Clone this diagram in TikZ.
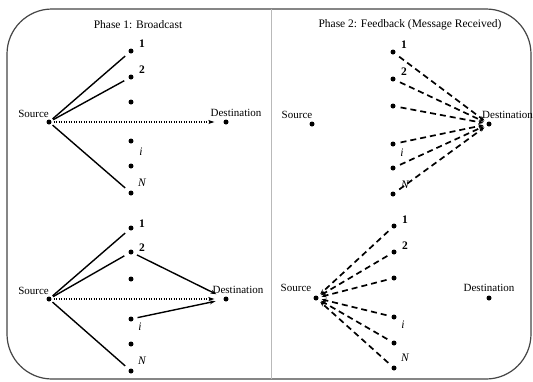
\documentclass[tikz,border=0pt]{standalone}
\usepackage{fontspec}
\setmainfont{Liberation Serif}
\usetikzlibrary{arrows.meta}
\begin{document}
\begin{tikzpicture}[x=1pt,y=-1pt,
  dot/.style={circle,fill=black,inner sep=0pt,minimum size=5pt},
  lbl/.style={inner sep=0pt,font=\fontsize{11}{12}\selectfont},
  num/.style={inner sep=0pt,font=\fontsize{11.5}{12}\selectfont\bfseries},
  itl/.style={inner sep=0pt,font=\fontsize{11.5}{12}\selectfont\itshape},
  ttl/.style={inner sep=0pt,font=\fontsize{11.5}{13}\selectfont},
  sline/.style={line width=1.4pt,shorten >=5pt,shorten <=2pt},
  sarrow/.style={line width=1.4pt,-{Stealth[length=6pt,width=4pt]},shorten >=8pt,shorten <=4pt},
  darrow/.style={line width=1.5pt,dash pattern=on 1.2pt off 1.3pt,-{Stealth[length=6pt,width=4pt]},shorten >=9pt,shorten <=2pt},
  dsh/.style={line width=1.7pt,dash pattern=on 6pt off 4pt,-{Stealth[length=5pt,width=4pt]},shorten >=3pt,shorten <=5pt}
]
\useasboundingbox (0,0) rectangle (533,381);
\fill[white] (0,0) rectangle (533,381);
\draw[gray!55!black,line width=1.2pt,rounded corners=45pt] (7,9) rectangle (531,379);
\draw[gray!55,line width=0.6pt] (271,9) -- (271,379);

% titles
\node[ttl] (t1) at (138,25) {Phase 1: Broadcast};
\node[ttl] (t2) at (410,25) {Phase 2: Feedback (Message Received)};

% ---- top-left panel
\node[dot] (aS) at (49,122) {};
\node[lbl,anchor=south east] (aSl) at (49,118) {Source};
\node[dot] (aD) at (226,122) {};
\node[lbl] (aDl) at (236,113) {Destination};
\node[dot] (a1) at (131,51) {};
\node[dot] (a2) at (131,77) {};
\node[dot] (a3) at (131,102) {};
\node[dot] (a4) at (131,141) {};
\node[dot] (a5) at (131,166) {};
\node[dot] (a6) at (131,193) {};
\node[num] (a1l) at (142,44) {1};
\node[num] (a2l) at (142,70) {2};
\node[itl] (a4l) at (141,152) {i};
\node[itl] (a6l) at (142,183) {N};
\draw[sline] (aS) -- (a1);
\draw[sline] (aS) -- (a2);
\draw[sline] (aS) -- (a6);
\draw[darrow] (aS) -- (aD);

% ---- bottom-left panel
\node[dot] (bS) at (49,299) {};
\node[lbl,anchor=south east] (bSl) at (49,295) {Source};
\node[dot] (bD) at (226,299) {};
\node[lbl] (bDl) at (238,290) {Destination};
\node[dot] (b1) at (131,228) {};
\node[dot] (b2) at (131,252) {};
\node[dot] (b3) at (131,279) {};
\node[dot] (b4) at (131,319) {};
\node[dot] (b5) at (131,344) {};
\node[dot] (b6) at (131,371) {};
\node[num] (b1l) at (142,224) {1};
\node[num] (b2l) at (142,248) {2};
\node[itl] (b4l) at (140,327) {i};
\node[itl] (b6l) at (142,361) {N};
\draw[sline] (bS) -- (b1);
\draw[sline] (bS) -- (b2);
\draw[sline] (bS) -- (b6);
\draw[darrow] (bS) -- (bD);
\draw[sarrow] (b2) -- (bD);
\draw[sarrow] (b4) -- (bD);

% ---- top-right panel
\node[dot] (cS) at (312,124) {};
\node[lbl] (cSl) at (297,115) {Source};
\node[dot] (cD) at (489,124) {};
\node[lbl,anchor=west] (cDl) at (482,115) {Destination};
\node[dot] (c1) at (393,52) {};
\node[dot] (c2) at (393,79) {};
\node[dot] (c3) at (393,106) {};
\node[dot] (c4) at (393,144) {};
\node[dot] (c5) at (393,168) {};
\node[dot] (c6) at (393,194) {};
\node[num] (c1l) at (404,45) {1};
\node[num] (c2l) at (404,72) {2};
\node[itl] (c4l) at (402,153) {i};
\node[itl] (c6l) at (405,185) {N};
\foreach \r in {c1,c2,c3,c4,c5,c6} \draw[dsh] (\r) -- (cD);

% ---- bottom-right panel
\node[dot] (dS) at (316,298) {};
\node[lbl] (dSl) at (296,288) {Source};
\node[dot] (dD) at (489,298) {};
\node[lbl] (dDl) at (489,288) {Destination};
\node[dot] (d1) at (394,226) {};
\node[dot] (d2) at (394,252) {};
\node[dot] (d3) at (394,278) {};
\node[dot] (d4) at (394,317) {};
\node[dot] (d5) at (394,343) {};
\node[dot] (d6) at (394,368) {};
\node[num] (d1l) at (405,220) {1};
\node[num] (d2l) at (405,246) {2};
\node[itl] (d4l) at (403,325) {i};
\node[itl] (d6l) at (405,358) {N};
\foreach \r in {d1,d2,d3,d4,d5,d6} \draw[dsh] (\r) -- (dS);
\end{tikzpicture}
\end{document}
